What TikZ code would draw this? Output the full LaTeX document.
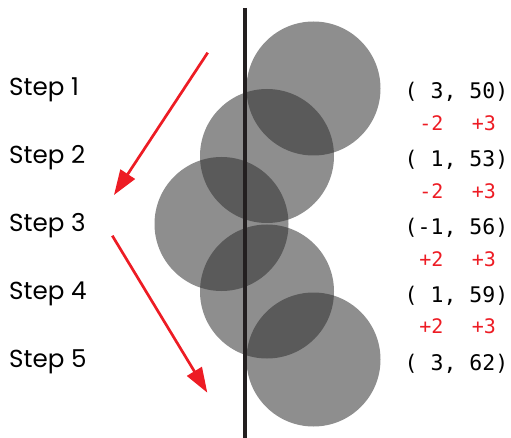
\documentclass[tikz,border=0pt]{standalone}
\usepackage{fontspec}
\setmainfont{Poppins}
\newfontfamily\monof{DejaVu Sans Mono}
\usetikzlibrary{arrows.meta}
\definecolor{arrred}{RGB}{237,28,36}
\definecolor{diskgray}{RGB}{46,46,46}
\definecolor{axisblack}{RGB}{35,31,32}
\tikzset{
  disk/.style={fill=diskgray,fill opacity=0.54,draw=none},
  steplabel/.style={anchor=base west,inner sep=0pt,font=\fontsize{24.6}{29}\selectfont,text=black},
  coordlabel/.style={anchor=base,inner sep=0pt,font=\monof\fontsize{21.5}{25}\selectfont,text=black},
  deltalabel/.style={anchor=base,inner sep=0pt,font=\monof\fontsize{20}{24}\selectfont,text=arrred},
  movearrow/.style={draw=arrred,line width=2.7pt,-{Triangle[length=25pt,width=17pt]}},
  axisline/.style={draw=axisblack,line width=4pt}
}
\begin{document}
\begin{tikzpicture}[x=1pt,y=-1pt]
\useasboundingbox (0,0) rectangle (511,438);
% circles
\fill[disk] (313.5,88.5) circle (67);
\fill[disk] (267,156) circle (67);
\fill[disk] (221.5,224) circle (67);
\fill[disk] (267,291.5) circle (67);
\fill[disk] (313.5,359.5) circle (67);
% axis
\coordinate (axtop) at (245,8);
\coordinate (axbot) at (245,438);
\draw[axisline] (axtop) -- (axbot);
% arrows
\coordinate (a1s) at (207.7,52.7);
\coordinate (a1e) at (114,195);
\coordinate (a2s) at (112.3,235.7);
\coordinate (a2e) at (207.3,392.7);
\draw[movearrow] (a1s) -- (a1e);
\draw[movearrow] (a2s) -- (a2e);
% step labels
\node[steplabel] (s1) at (9,96) {Step 1};
\node[steplabel] (s2) at (9,163.75) {Step 2};
\node[steplabel] (s3) at (9,231.5) {Step 3};
\node[steplabel] (s4) at (9,299.25) {Step 4};
\node[steplabel] (s5) at (9,367) {Step 5};
% coordinates
\node[coordlabel] (c1) at (456.5,99) {(~3,~50)};
\node[coordlabel] (c2) at (456.5,166.75) {(~1,~53)};
\node[coordlabel] (c3) at (456.5,234.5) {(-1,~56)};
\node[coordlabel] (c4) at (456.5,302.25) {(~1,~59)};
\node[coordlabel] (c5) at (456.5,370) {(~3,~62)};
% deltas
\node[deltalabel] (d1x) at (431.3,130.5) {-2};
\node[deltalabel] (d1y) at (483.8,130.5) {+3};
\node[deltalabel] (d2x) at (431.3,198.25) {-2};
\node[deltalabel] (d2y) at (483.8,198.25) {+3};
\node[deltalabel] (d3x) at (431.3,266) {+2};
\node[deltalabel] (d3y) at (483.8,266) {+3};
\node[deltalabel] (d4x) at (431.3,333.75) {+2};
\node[deltalabel] (d4y) at (483.8,333.75) {+3};
\end{tikzpicture}
\end{document}
